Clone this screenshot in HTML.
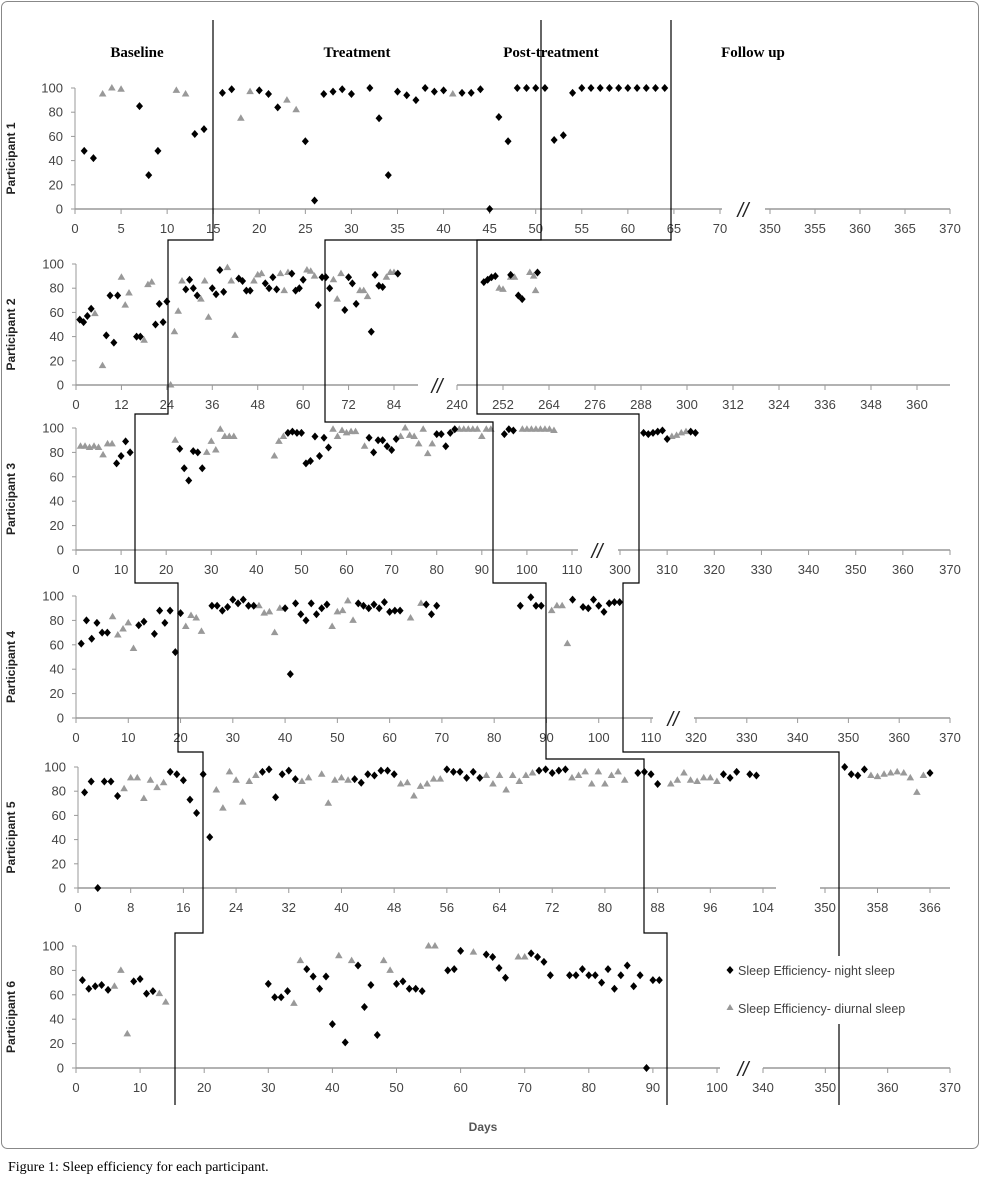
<!DOCTYPE html>
<html><head><meta charset="utf-8"><style>
html,body{margin:0;padding:0;background:#fff;}
svg{display:block;}
</style></head><body>
<svg id="chart" xmlns="http://www.w3.org/2000/svg" width="981" height="1204" viewBox="0 0 981 1204">
<rect x="1.5" y="1.5" width="977" height="1147" rx="6" fill="#fff" stroke="#888" stroke-width="1"/>
<g font-family="Liberation Serif, serif" font-weight="bold" font-size="15" fill="#000" text-anchor="middle">
<text x="137" y="57">Baseline</text>
<text x="357" y="57">Treatment</text>
<text x="551" y="57">Post-treatment</text>
<text x="753" y="57">Follow up</text>
</g>
<g id="panels"></g>
<g id="phaselines" fill="none" stroke="#000" stroke-width="1.2"></g>
<rect x="724" y="956" width="226" height="68" fill="#fff"/>
<g font-family="Liberation Sans, sans-serif" font-size="12.5" fill="#444">
<path d="M730,966 l3.5,4 l-3.5,4 l-3.5,-4z" fill="#000"/>
<text x="738" y="975">Sleep Efficiency- night sleep</text>
<path d="M730,1004 l3.5,6 l-7,0z" fill="#999"/>
<text x="738" y="1013">Sleep Efficiency- diurnal sleep</text>
</g>
<text x="483" y="1131" font-family="Liberation Sans, sans-serif" font-weight="bold" font-size="12" fill="#555" text-anchor="middle">Days</text>
<text x="8" y="1171" font-family="Liberation Serif, serif" font-size="14" fill="#000">Figure 1: Sleep efficiency for each participant.</text>
</svg>
<script>
const yTicks=[0,20,40,60,80,100];
const p1Night=[[1,48],[2,42],[7,85],[8,28],[9,48],[13,62],[14,66],[16,96],[17,99],[20,98],[21,95],[22,84],[25,56],[26,7],[27,95],[28,97],[29,99],[30,95],[32,100],[33,75],[34,28],[35,97],[36,94],[37,90],[38,100],[39,97],[40,98],[42,96],[43,96],[44,99],[45,0],[46,76],[47,56],[48,100],[49,100],[50,100],[51,100],[52,57],[53,61],[54,96],[55,100],[56,100],[57,100],[58,100],[59,100],[60,100],[61,100],[62,100],[63,100],[64,100]];
const p1Diurnal=[[3,95],[4,100],[5,99],[11,98],[12,95],[18,75],[19,97],[23,90],[24,82],[41,95]];
const p2Night=[[1,54],[2,52],[3,57],[4,63],[8,41],[9,74],[10,35],[11,74],[16,40],[17,40],[21,50],[22,67],[23,52],[24,69],[29,79],[30,87],[31,80],[32,74],[36,80],[37,75],[38,95],[39,77],[43,88],[44,86],[45,78],[46,78],[50,84],[51,80],[52,89],[53,79],[57,92],[58,78],[59,80],[60,87],[64,66],[65,89],[66,89],[67,80],[71,62],[72,89],[73,84],[74,67],[78,44],[79,91],[80,82],[81,81],[85,92],[247,85],[248,87],[249,89],[250,90],[254,91],[256,74],[257,71],[261,93]];
const p2Diurnal=[[5,59],[7,16],[12,89],[13,66],[14,76],[18,37],[19,83],[20,85],[25,0],[26,44],[27,61],[28,86],[33,71],[34,86],[35,56],[40,97],[41,86],[42,41],[47,86],[48,91],[49,92],[54,92],[55,78],[56,93],[61,95],[62,94],[63,90],[68,87],[69,71],[70,92],[75,78],[76,78],[77,73],[82,89],[83,93],[84,93],[251,80],[252,79],[254,89],[255,89],[259,93],[260,90],[260.5,78]];
const p3Night=[[9,71],[10,77],[11,89],[12,80],[23,83],[24,67],[25,57],[26,81],[27,80],[28,67],[47,96],[48,97],[49,96],[50,96],[51,71],[52,73],[53,93],[54,77],[55,92],[56,84],[65,92],[66,80],[67,90],[68,90],[69,85],[70,82],[71,91],[80,95],[81,95],[82,85],[83,96],[84,99],[95,95],[96,99],[97,98],[305,96],[306,95],[307,96],[308,97],[309,98],[310,91],[315,97],[316,96]];
const p3Diurnal=[[1,85],[2,85],[3,84],[4,85],[5,84],[6,78],[7,87],[8,87],[22,90],[29,80],[30,89],[31,82],[32,99],[33,93],[34,93],[35,93],[44,77],[45,89],[46,93],[57,99],[58,93],[59,98],[60,96],[61,97],[62,97],[64,85],[72,93],[73,100],[74,94],[75,93],[76,87],[77,99],[78,79],[79,87],[85,99],[86,99],[87,99],[88,99],[89,99],[90,93],[91,99],[92,99],[99,99],[100,99],[101,99],[102,99],[103,99],[104,99],[105,99],[106,98],[311,93],[312,94],[313,96],[314,97]];
const p4Night=[[1,61],[2,80],[3,65],[4,78],[5,70],[6,70],[12,76],[13,79],[15,69],[16,88],[17,78],[18,88],[19,54],[20,86],[26,92],[27,92],[28,88],[29,91],[30,97],[31,94],[32,97],[33,92],[34,92],[40,90],[41,36],[42,94],[43,85],[44,80],[45,94],[46,85],[47,90],[48,93],[54,94],[55,92],[56,90],[57,93],[58,90],[59,95],[60,87],[61,88],[62,88],[67,93],[68,85],[69,92],[85,92],[87,99],[88,92],[89,92],[95,97],[97,91],[98,90],[99,97],[100,92],[101,87],[102,94],[103,95],[104,95]];
const p4Diurnal=[[7,83],[8,68],[9,73],[10,78],[11,57],[21,75],[22,84],[23,82],[24,71],[35,92],[36,86],[37,87],[38,70],[39,90],[49,75],[50,87],[51,88],[52,96],[53,80],[64,82],[66,94],[91,88],[92,92],[93,92],[94,61]];
const p5Night=[[1,79],[2,88],[3,0],[4,88],[5,88],[6,76],[14,96],[15,94],[16,89],[17,73],[18,62],[19,94],[20,42],[28,96],[29,98],[30,75],[31,94],[32,97],[33,90],[42,90],[43,87],[44,94],[45,93],[46,97],[47,97],[48,94],[56,98],[57,96],[58,96],[59,91],[60,96],[61,91],[70,97],[71,98],[72,95],[73,97],[74,98],[85,95],[86,96],[87,94],[88,86],[98,94],[99,91],[100,96],[102,94],[103,93],[353,100],[354,94],[355,93],[356,98],[366,95]];
const p5Diurnal=[[7,82],[8,91],[9,91],[10,74],[11,89],[12,83],[13,87],[21,81],[22,66],[23,96],[24,89],[25,71],[26,88],[27,93],[34,88],[35,91],[37,94],[38,70],[39,89],[40,91],[41,89],[49,86],[50,87],[51,76],[52,84],[53,86],[54,90],[55,90],[62,93],[63,86],[64,93],[65,81],[66,93],[67,88],[68,93],[69,95],[75,91],[76,93],[77,96],[78,86],[79,96],[80,86],[81,93],[82,96],[83,89],[90,86],[91,89],[92,95],[93,89],[94,88],[95,91],[96,91],[97,88],[357,93],[358,92],[359,94],[360,95],[361,96],[362,95],[363,91],[364,79],[365,93]];
const p6Night=[[1,72],[2,65],[3,67],[4,68],[5,64],[9,71],[10,73],[11,61],[12,63],[30,69],[31,58],[32,58],[33,63],[36,81],[37,75],[38,65],[39,75],[40,36],[42,21],[44,84],[45,50],[46,68],[47,27],[50,69],[51,71],[52,65],[53,65],[54,63],[58,80],[59,81],[60,96],[64,93],[65,91],[66,82],[67,74],[71,94],[72,91],[73,87],[74,76],[77,76],[78,76],[79,81],[80,76],[81,76],[82,70],[83,81],[84,65],[85,76],[86,84],[87,67],[88,76],[89,0],[90,72],[91,72]];
const p6Diurnal=[[6,67],[7,80],[8,28],[13,61],[14,54],[34,53],[35,88],[41,92],[43,88],[48,88],[49,80],[55,100],[56,100],[62,95],[69,91],[70,91]];
const p1Ticks=[[0,5,10,15,20,25,30,35,40,45,50,55,60,65,70],[350,355,360,365,370]];
const p2Ticks=[[0,12,24,36,48,60,72,84],[240,252,264,276,288,300,312,324,336,348,360]];
const p3Ticks=[[0,10,20,30,40,50,60,70,80,90,100,110],[300,310,320,330,340,350,360,370]];
const p4Ticks=[[0,10,20,30,40,50,60,70,80,90,100,110],[320,330,340,350,360,370]];
const p5Ticks=[[0,8,16,24,32,40,48,56,64,72,80,88,96,104],[350,358,366]];
const p6Ticks=[[0,10,20,30,40,50,60,70,80,90,100],[340,350,360,370]];

// layout (pixels), separate from data
const panels=[
 {name:'Participant 1',y0:209,y100:88,night:p1Night,diurnal:p1Diurnal,ticks:p1Ticks,brk:743,
  segs:[{v0:0,v1:70,p0:75,p1:720,a0:75,a1:722},{v0:350,v1:370,p0:770,p1:950,a0:765,a1:950}]},
 {name:'Participant 2',y0:385,y100:264,night:p2Night,diurnal:p2Diurnal,ticks:p2Ticks,brk:437,
  segs:[{v0:0,v1:84,p0:76,p1:394,a0:76,a1:418},{v0:240,v1:360,p0:457,p1:917,a0:457,a1:950}]},
 {name:'Participant 3',y0:550,y100:428,night:p3Night,diurnal:p3Diurnal,ticks:p3Ticks,brk:597,
  segs:[{v0:0,v1:110,p0:76,p1:572,a0:76,a1:578},{v0:300,v1:370,p0:620,p1:950,a0:618,a1:950}]},
 {name:'Participant 4',y0:718,y100:596,night:p4Night,diurnal:p4Diurnal,ticks:p4Ticks,brk:673,
  segs:[{v0:0,v1:110,p0:76,p1:651,a0:76,a1:653},{v0:320,v1:370,p0:696,p1:950,a0:694,a1:950}]},
 {name:'Participant 5',y0:888,y100:767,night:p5Night,diurnal:p5Diurnal,ticks:p5Ticks,brk:null,
  segs:[{v0:0,v1:104,p0:78,p1:763,a0:78,a1:776},{v0:350,v1:366,p0:825,p1:930,a0:820,a1:950}]},
 {name:'Participant 6',y0:1068,y100:946,night:p6Night,diurnal:p6Diurnal,ticks:p6Ticks,brk:743,
  segs:[{v0:0,v1:100,p0:76,p1:717,a0:76,a1:720},{v0:340,v1:370,p0:763,p1:950,a0:763,a1:950}]}
];
const NS='http://www.w3.org/2000/svg';
function mk(tag,attrs,parent){const e=document.createElementNS(NS,tag);for(const k in attrs)e.setAttribute(k,attrs[k]);parent.appendChild(e);return e;}
function xScale(p,d){const s=d<=p.segs[0].v1+5?p.segs[0]:p.segs[1];return s.p0+(d-s.v0)*(s.p1-s.p0)/(s.v1-s.v0);}
function yScale(p,v){return p.y0+(p.y100-p.y0)*v/100;}
const root=document.getElementById('panels');
panels.forEach((p,i)=>{
 const g=mk('g',{},root);
 
 
 // y axis
 const ya=mk('line',{x1:p.segs[0].a0,x2:p.segs[0].a0,y1:p.y0,y2:p.y100,stroke:'#999','stroke-width':1},g);
 
 
 yTicks.forEach(t=>{
  const y=yScale(p,t);
  mk('line',{x1:p.segs[0].a0-4,x2:p.segs[0].a0,y1:y,y2:y,stroke:'#999'},g);
  const tx=mk('text',{x:p.segs[0].a0-12,y:y+4.5,'font-family':'Liberation Sans, sans-serif','font-size':13,fill:'#444','text-anchor':'end'},g);
  tx.textContent=t;
  
  
 });
 const yt=mk('text',{transform:`translate(15,${(p.y0+p.y100)/2+10}) rotate(-90)`,'font-family':'Liberation Sans, sans-serif','font-size':12,'font-weight':'bold',fill:'#222','text-anchor':'middle'},g);
 yt.textContent=p.name;
 
 
 p.segs.forEach((s,si)=>{
  const xa=mk('line',{x1:s.a0,x2:s.a1,y1:p.y0,y2:p.y0,stroke:'#999','stroke-width':1.5},g);
  
  
  p.ticks[si].forEach(t=>{
   const x=s.p0+(t-s.v0)*(s.p1-s.p0)/(s.v1-s.v0);
   mk('line',{x1:x,x2:x,y1:p.y0,y2:p.y0+5,stroke:'#999'},g);
   const tx=mk('text',{x:x,y:p.y0+24,'font-family':'Liberation Sans, sans-serif','font-size':13,fill:'#444','text-anchor':'middle'},g);
   tx.textContent=t;
   
   
  });
 });
 if(p.brk){
  const b=mk('text',{x:p.brk,y:p.y0+8,'font-family':'Liberation Sans, sans-serif','font-size':20,'font-style':'italic',fill:'#222','text-anchor':'middle'},g);
  b.textContent='//';
  
  
 }
 p.diurnal.forEach(([d,v])=>{
  const x=xScale(p,d),y=yScale(p,v);
  const m=mk('path',{d:`M${x},${y-4} l3.8,6.5 l-7.6,0z`,fill:'#999'},g);
  
  
 });
 p.night.forEach(([d,v])=>{
  const x=xScale(p,d),y=yScale(p,v);
  const m=mk('path',{d:`M${x},${y-4} l3.5,4 l-3.5,4 l-3.5,-4z`,fill:'#000'},g);
  
  
 });
});
const pl=document.getElementById('phaselines');
const lines={
 'baseline-treatment-divider':'213,20 213,240 168,240 168,414 135,414 135,583 178,583 178,752 203,752 203,933 175,933 175,1105',
 'treatment-post-divider':'541,20 541,240 325,240 325,422 493,422 493,583 546,583 546,759 644,759 644,933 667,933 667,1105',
 'post-followup-divider':'671,20 671,240 477,240 477,414 639,414 639,583 623,583 623,752 839,752 839,1105'
};
for(const k in lines){
 const l=mk('polyline',{points:lines[k]},pl);
 
 
}
</script>
</body></html>
